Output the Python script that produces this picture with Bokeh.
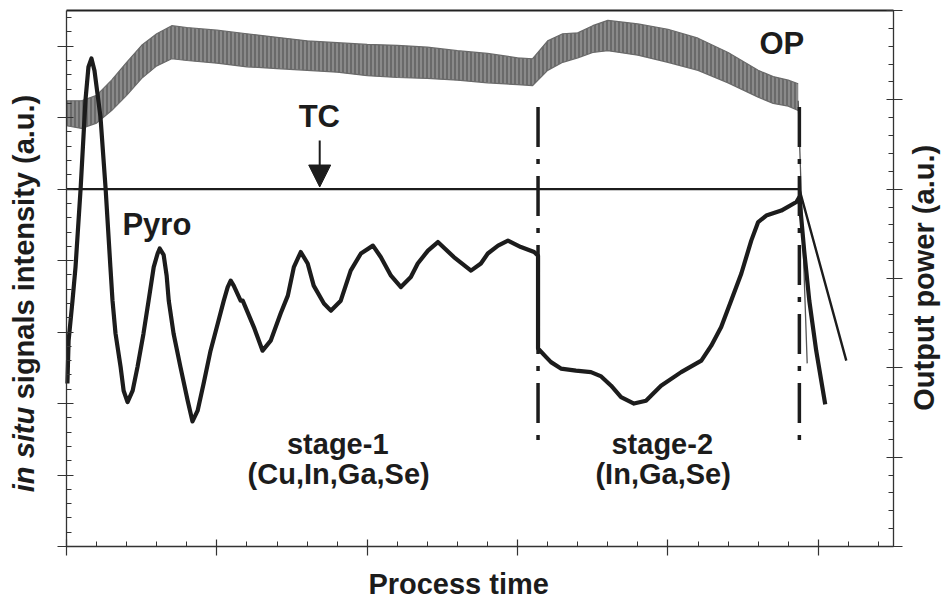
import math
from bokeh.plotting import figure
from bokeh.models import (LinearAxis, Range1d, FixedTicker, Label, Arrow, NormalHead,
                          ColumnDataSource)
from bokeh.embed import file_html
from bokeh.resources import INLINE

# ---------------- data (arbitrary units) ----------------
# Output power (OP), right axis: envelope of the noisy trace
op_time  = [0.0, 0.5, 1.0, 1.5, 2.0, 2.5, 3.0, 3.5, 4.0, 5.0, 6.0, 7.0, 8.0, 9.0, 10.0,
            11.0, 12.0, 13.0, 14.0, 15.0, 15.5, 16.0, 16.5, 17.0, 17.5, 18.0, 19.0,
            20.0, 21.0, 22.0, 23.0, 23.5, 24.0, 24.33]
op_upper = [4.99, 4.99, 5.05, 5.22, 5.42, 5.61, 5.74, 5.83, 5.81, 5.78, 5.74, 5.70, 5.66,
            5.64, 5.62, 5.61, 5.59, 5.55, 5.52, 5.47, 5.46, 5.66, 5.74, 5.75, 5.83, 5.89,
            5.85, 5.79, 5.69, 5.53, 5.33, 5.26, 5.22, 5.18]
op_lower = [4.71, 4.68, 4.74, 4.88, 5.05, 5.24, 5.38, 5.46, 5.44, 5.41, 5.37, 5.35, 5.33,
            5.31, 5.27, 5.25, 5.24, 5.22, 5.19, 5.17, 5.16, 5.33, 5.42, 5.47, 5.53, 5.55,
            5.50, 5.42, 5.33, 5.19, 5.03, 4.96, 4.93, 4.88]
op_drop_time = [24.33, 24.43, 24.63]
op_drop_val  = [4.99, 3.99, 2.05]

# Thermocouple (TC), left axis
tc_time = [0.0, 24.37, 25.93]
tc_val  = [5.0, 5.0, 2.60]

# Pyrometer (Pyro), left axis
pyro_time = [0.03, 0.07, 0.20, 0.30, 0.47, 0.63, 0.73, 0.83, 0.93, 1.13, 1.30, 1.46, 1.53,
             1.63, 1.80, 1.90, 2.03, 2.20, 2.36, 2.56, 2.73, 2.90, 3.03, 3.10, 3.23, 3.33,
             3.40, 3.56, 3.79, 4.03, 4.19, 4.36, 4.56, 4.79, 5.03, 5.23, 5.36, 5.46, 5.56,
             5.79, 5.86, 6.23, 6.52, 6.79, 7.12, 7.36, 7.56, 7.79, 8.02, 8.22, 8.56, 8.79,
             9.12, 9.45, 9.79, 10.19, 10.45, 10.79, 11.12, 11.45, 11.68, 12.02, 12.35,
             12.88, 13.45, 13.78, 14.01, 14.35, 14.68, 15.11, 15.55, 15.68, 15.68, 15.95,
             16.11, 16.44, 16.94, 17.44, 17.78, 18.11, 18.44, 18.87, 19.27, 19.77, 20.44,
             21.11, 21.44, 21.77, 22.10, 22.44, 22.77, 23.00, 23.27, 23.77, 24.27, 24.37,
             24.53, 24.70, 24.93, 25.23]
pyro_val  = [2.28, 2.88, 3.44, 3.91, 5.01, 6.24, 6.71, 6.83, 6.66, 6.01, 5.01, 3.91, 3.44,
             2.98, 2.51, 2.18, 2.02, 2.18, 2.51, 2.98, 3.44, 3.91, 4.10, 4.17, 4.08, 3.79,
             3.44, 2.98, 2.51, 2.04, 1.75, 1.90, 2.28, 2.74, 3.12, 3.44, 3.63, 3.72, 3.65,
             3.44, 3.44, 3.07, 2.74, 2.88, 3.26, 3.51, 3.91, 4.12, 3.96, 3.65, 3.40, 3.30,
             3.44, 3.86, 4.10, 4.21, 4.05, 3.79, 3.63, 3.77, 3.96, 4.14, 4.26,
             4.05, 3.86, 3.96, 4.10, 4.21, 4.28, 4.19, 4.12, 4.07, 2.77, 2.65,
             2.58, 2.49, 2.46, 2.44, 2.38, 2.25, 2.09, 2.00, 2.04, 2.25, 2.44,
             2.60, 2.81, 3.07, 3.44, 3.82, 4.28, 4.54, 4.63, 4.70, 4.82, 4.89,
             4.14, 3.44, 2.74, 1.99]

# Stage boundaries (process time) and the extent of their markers (left axis units)
stage_bounds = [15.68, 24.37]
stage_top = 6.15
stage_bottom = 1.48

x_major = [0, 5, 10, 15, 20, 25]
x_minor = [i for i in range(0, 28)]
yl_major = [0, 1, 2, 3, 4, 5, 6, 7]
yl_minor = [round(i * 0.2, 1) for i in range(0, 38)]
yr_major = [0, 1, 2, 3, 4, 5, 6]
yr_minor = [round(i * 0.2, 1) for i in range(0, 31)]

X_LO, X_HI = 0.0, 27.5     # axis extent, process time
YL_LO, YL_HI = 0.0, 7.5    # left axis extent
YR_LO, YR_HI = 0.0, 6.0    # right axis extent

# ---------------- figure ----------------
FONT = "Liberation Sans"
INK = "#1c1c1c"
W, H = 942, 599
FL, FR, FT, FB = 66, 893, 10, 546   # where the axes sit on the canvas

sx = (FR - FL) / (X_HI - X_LO)
syl = (FB - FT) / (YL_HI - YL_LO)
syr = (FB - FT) / (YR_HI - YR_LO)

p = figure(width=W, height=H,
           x_range=Range1d(X_LO - FL / sx, X_HI + (W - FR) / sx),
           y_range=Range1d(YL_LO - (H - FB) / syl, YL_HI + FT / syl),
           output_backend="svg", toolbar_location=None,
           min_border_left=0, min_border_right=0, min_border_top=0, min_border_bottom=0)
p.extra_y_ranges = {"op": Range1d(YR_LO - (H - FB) / syr, YR_HI + FT / syr)}
p.grid.visible = False
p.outline_line_color = None
p.background_fill_color = "white"
p.border_fill_color = "white"

xa = p.xaxis[0]
ya = p.yaxis[0]
xa.ticker = FixedTicker(ticks=x_major, minor_ticks=x_minor)
ya.ticker = FixedTicker(ticks=yl_major, minor_ticks=yl_minor)
xa.fixed_location = YL_LO
ya.fixed_location = X_LO
xa.bounds = (X_LO, X_HI)
ya.bounds = (YL_LO, YL_HI)

right = LinearAxis(y_range_name="op", fixed_location=X_HI, bounds=(YR_LO, YR_HI),
                   ticker=FixedTicker(ticks=yr_major, minor_ticks=yr_minor))
p.add_layout(right, "right")
top = LinearAxis(fixed_location=YL_HI, bounds=(X_LO, X_HI),
                 ticker=FixedTicker(ticks=[]))
p.add_layout(top, "above")

for ax in [xa, ya, right, top]:
    ax.major_label_text_font_size = "1px"
    ax.major_label_text_color = None
    ax.major_tick_in = 7
    ax.major_tick_out = 9
    ax.minor_tick_in = 5
    ax.minor_tick_out = 0
    ax.axis_line_color = "#333333"
    ax.axis_line_width = 1.3
    ax.major_tick_line_color = "#333333"
    ax.minor_tick_line_color = "#333333"
    ax.major_tick_line_width = 1.2
    ax.minor_tick_line_width = 1
top.axis_line_width = 1.8
top.axis_line_color = "#222222"
top.major_tick_line_color = None
top.minor_tick_line_color = None

# OP noisy band
op_src = ColumnDataSource(dict(x=op_time, y1=op_lower, y2=op_upper))
p.varea(x="x", y1="y1", y2="y2", source=op_src, y_range_name="op",
        fill_color="#8a8a8a", hatch_pattern="|", hatch_color="#4a4a4a",
        hatch_scale=4, hatch_weight=1)
p.line(op_time, op_upper, y_range_name="op", line_color="#6a6a6a", line_width=1.2)
p.line(op_time, op_lower, y_range_name="op", line_color="#6a6a6a", line_width=1.2)
p.line(op_drop_time, op_drop_val, y_range_name="op", line_color="#555555", line_width=1.3)

# TC
p.line(tc_time, tc_val, line_color=INK, line_width=2.4)

# Pyro
p.line(pyro_time, pyro_val, line_color=INK, line_width=4.2, line_join="round")

# stage boundaries
p.segment(x0=stage_bounds, y0=[stage_top] * 2, x1=stage_bounds, y1=[stage_bottom] * 2,
          line_color=INK, line_width=3.5, line_dash="40 12 5 12")

# arrow for TC
p.add_layout(Arrow(end=NormalHead(size=22, fill_color=INK, line_color=INK),
                   x_start=8.42, y_start=5.68, x_end=8.42, y_end=5.03,
                   line_color=INK, line_width=2))

def lab(text, x, y, size="29px", align="left", style="bold", angle=0.0,
        baseline="alphabetic"):
    p.add_layout(Label(x=x, y=y, text=text,
                       text_font=FONT, text_font_size=size,
                       text_font_style=style, text_color=INK, text_align=align,
                       text_baseline=baseline, angle=angle))

lab("OP", 23.04, 7.04, size="31px")
lab("TC", 7.72, 6.01, size="31px")
lab("Pyro", 1.86, 4.51, size="31px")
lab("stage-1", 9.02, 1.44, align="center")
lab("(Cu,In,Ga,Se)", 9.05, 1.02, align="center")
lab("stage-2", 19.81, 1.44, align="center")
lab("(In,Ga,Se)", 19.84, 1.02, align="center")

# axis titles (the frame covers the whole canvas, so these sit beside the axes)
lab("Process time", 13.04, -0.52, align="center")
lab("in situ", -1.40, 0.76, style="bold italic", angle=math.pi / 2)
lab("signals intensity (a.u.)", -1.40, 2.06, angle=math.pi / 2)
lab("Output power (a.u.)", 28.50, 3.76, align="center", angle=math.pi / 2)

open("out.html", "w").write(file_html(p, INLINE))
